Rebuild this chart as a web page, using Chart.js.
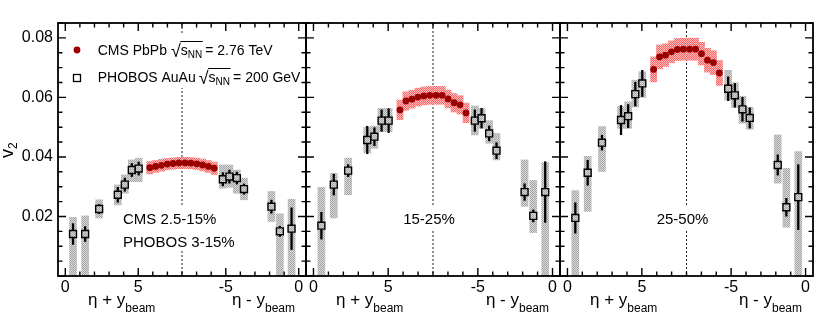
<!DOCTYPE html>
<html>
<head>
<meta charset="utf-8">
<script src="https://cdn.jsdelivr.net/npm/chart.js@4.4.0/dist/chart.umd.min.js"></script>
<style>
  body { margin: 0; background: #fff; }
  #wrap { position: relative; width: 830px; height: 336px; }
  #wrap canvas { position: absolute; left: 0; top: 0; }
</style>
</head>
<body>
<div id="wrap">
  <canvas id="c1" width="830" height="336"></canvas>
  <canvas id="c2" width="830" height="336"></canvas>
  <canvas id="c3" width="830" height="336"></canvas>
</div>
<script>
const FONT = '"Liberation Sans", Arial, Helvetica, sans-serif';
Chart.defaults.font.family = FONT;
Chart.defaults.color = "#000";

// x: eta + y_beam on the left half (positive), eta - y_beam on the right half (negative)
const cmsEta = [5.79, 6.19, 6.59, 6.99, 7.39, 7.79, -7.79, -7.39, -6.99, -6.59, -6.19, -5.79];
const phobosEta = [0.53, 1.36, 2.32, 3.6, 4.08, 4.56, 5.03, -5.2, -4.75, -4.24, -3.75, -1.87, -1.29, -0.49];

// CMS 2.5-15% / PHOBOS 3-15%
const cmsV2A = [0.0364, 0.0368, 0.0372, 0.0376, 0.0378, 0.0380, 0.0380, 0.0379, 0.0377, 0.0373, 0.0368, 0.0362];
const cmsSysA = [0.0021, 0.0020, 0.0020, 0.0019, 0.0019, 0.0019, 0.0019, 0.0019, 0.0019, 0.0020, 0.0020, 0.0021];
const phobosV2A = [0.0141, 0.0141, 0.0225, 0.0273, 0.0307, 0.0356, 0.0361, 0.0325, 0.0334, 0.0329, 0.0292, 0.0233, 0.0150, 0.0159];
const phobosStatA = [0.0035, 0.0025, 0.0015, 0.0025, 0.0022, 0.0022, 0.0022, 0.0022, 0.0022, 0.0020, 0.0017, 0.0022, 0.0017, 0.0070];
const phobosSysLoA = [0, 0, 0.0195, 0.0239, 0.0278, 0.0317, 0.0317, 0.0295, 0.0298, 0.0278, 0.0256, 0.0183, 0, 0];
const phobosSysHiA = [0.0197, 0.0202, 0.0256, 0.0306, 0.0340, 0.0390, 0.0396, 0.0373, 0.0373, 0.0356, 0.0329, 0.0284, 0.0209, 0.0258];

// 15-25%
const cmsV2B = [0.0558, 0.0588, 0.0594, 0.0601, 0.0605, 0.0607, 0.0607, 0.0607, 0.0595, 0.0582, 0.0575, 0.0548];
const cmsSysB = [0.0033, 0.0031, 0.0030, 0.0030, 0.0030, 0.0030, 0.0030, 0.0030, 0.0030, 0.0031, 0.0031, 0.0033];
const phobosV2B = [0.0169, 0.0307, 0.0354, 0.0457, 0.0468, 0.0522, 0.0522, 0.0522, 0.0530, 0.0479, 0.0421, 0.0282, 0.0202, 0.0282];
const phobosStatB = [0.0045, 0.0035, 0.0020, 0.0046, 0.0030, 0.0036, 0.0040, 0.0036, 0.0033, 0.0025, 0.0027, 0.0028, 0.0020, 0.0102];
const phobosSysLoB = [0, 0.0195, 0.0273, 0.0414, 0.0429, 0.0485, 0.0485, 0.0474, 0.0496, 0.0446, 0.0390, 0.0234, 0.0146, 0];
const phobosSysHiB = [0.0298, 0.0345, 0.0396, 0.0500, 0.0504, 0.0563, 0.0563, 0.0571, 0.0563, 0.0522, 0.0479, 0.0390, 0.0321, 0.0381];

// 25-50%
const cmsV2C = [0.0694, 0.0736, 0.0742, 0.0753, 0.0761, 0.0762, 0.0762, 0.0762, 0.0747, 0.0725, 0.0717, 0.0682];
const cmsSysC = [0.0042, 0.0040, 0.0038, 0.0037, 0.0037, 0.0037, 0.0037, 0.0037, 0.0038, 0.0040, 0.0040, 0.0042];
const phobosV2C = [0.0195, 0.0347, 0.0448, 0.0524, 0.0537, 0.0611, 0.0647, 0.0629, 0.0607, 0.0560, 0.0531, 0.0373, 0.0231, 0.0265];
const phobosStatC = [0.0051, 0.0042, 0.0025, 0.0049, 0.0039, 0.0040, 0.0044, 0.0040, 0.0040, 0.0040, 0.0034, 0.0034, 0.0030, 0.0109];
const phobosSysLoC = [0, 0.0217, 0.0351, 0.0496, 0.0496, 0.0568, 0.0600, 0.0591, 0.0566, 0.0513, 0.0493, 0.0312, 0.0164, 0];
const phobosSysHiC = [0.0287, 0.0402, 0.0502, 0.0569, 0.0585, 0.0658, 0.0686, 0.0691, 0.0649, 0.0604, 0.0567, 0.0474, 0.0362, 0.0418];

const xMajorPos = [0, 5, 11, 16];
const xMajorLabels = ["0", "5", "-5", "0"];
const yMajorLabels = ["0.02", "0.04", "0.06", "0.08"];

// left half runs 0..8, right half -8..0 -> one linear axis 0..16
const toAxis = e => (e < 0 ? e + 16 : e);

function hatch(c1, c2) {
  const p = document.createElement("canvas");
  p.width = p.height = 2;
  const g = p.getContext("2d");
  g.fillStyle = c2; g.fillRect(0, 0, 2, 2);
  g.fillStyle = c1; g.fillRect(0, 0, 1, 1); g.fillRect(1, 1, 1, 1);
  return g.createPattern(p, "repeat");
}
const grayHatch = hatch("#a6a6a6", "#d8d8d8");
const pinkHatch = hatch("#ff6464", "#ffbcbc");

// text with a subscript, returns end x
function subText(ctx, x, y, main, sub, size, subSize, drop) {
  ctx.font = `${size}px ${FONT}`;
  ctx.fillText(main, x, y);
  x += ctx.measureText(main).width;
  ctx.font = `${subSize}px ${FONT}`;
  ctx.fillText(sub, x, y + drop);
  return x + ctx.measureText(sub).width;
}

function sqrtSnn(ctx, x, y, tail) {
  ctx.font = `18px ${FONT}`;
  ctx.fillText("\u221A", x, y + 2);
  x += ctx.measureText("\u221A").width;
  const x0 = x;
  x = subText(ctx, x, y, "s", "NN", 14, 10, 3);
  ctx.lineWidth = 1;
  ctx.beginPath(); ctx.moveTo(x0 - 0.5, y - 13.5); ctx.lineTo(x + 0.5, y - 13.5); ctx.stroke();
  ctx.font = `14px ${FONT}`;
  ctx.fillText(tail, x + 3, y);
}

function legend(ctx) {
  ctx.fillStyle = "#fff";
  ctx.fillRect(62, 33, 241, 55);
  ctx.fillStyle = "#990000";
  ctx.beginPath(); ctx.arc(77, 50, 3.4, 0, Math.PI * 2); ctx.fill();
  ctx.fillStyle = "#fff"; ctx.strokeStyle = "#000"; ctx.lineWidth = 1.3;
  ctx.fillRect(73.5, 74.5, 7, 7); ctx.strokeRect(73.5, 74.5, 7, 7);
  ctx.fillStyle = "#000";
  ctx.textAlign = "left"; ctx.textBaseline = "alphabetic";
  ctx.font = `14px ${FONT}`;
  ctx.fillText("CMS PbPb", 97.7, 55);
  sqrtSnn(ctx, 97.7 + ctx.measureText("CMS PbPb").width + 4, 55, "= 2.76 TeV");
  ctx.font = `14px ${FONT}`;
  ctx.fillText("PHOBOS AuAu", 97.7, 82);
  sqrtSnn(ctx, 97.7 + ctx.measureText("PHOBOS AuAu").width + 3, 82, "= 200 GeV");
}

function makeDecor(p) {
  return {
    id: "decor" + p.id,
    beforeDatasetsDraw(chart) {
      const { ctx, chartArea: a, scales: { x } } = chart;
      const cx = x.getPixelForValue(8);
      ctx.save();
      ctx.strokeStyle = "#222"; ctx.lineWidth = 1; ctx.setLineDash([2, 2]);
      ctx.beginPath(); ctx.moveTo(cx, a.top); ctx.lineTo(cx, a.bottom); ctx.stroke();
      ctx.setLineDash([]);
      ctx.font = `15px ${FONT}`;
      ctx.textBaseline = "alphabetic";
      if (p.legend) {
        legend(ctx);
        ctx.fillStyle = "#fff"; ctx.fillRect(119, 205, 120, 45);
        ctx.fillStyle = "#000"; ctx.textAlign = "left"; ctx.font = `15px ${FONT}`;
        ctx.fillText(p.label[0], 123, 224);
        ctx.fillText(p.label[1], 123, 246.7);
      } else {
        const w = ctx.measureText(p.label[0]).width;
        ctx.fillStyle = "#fff"; ctx.fillRect(cx - 4 - w / 2 - 2, 205, w + 4, 25);
        ctx.fillStyle = "#000"; ctx.textAlign = "center";
        ctx.fillText(p.label[0], cx - 4, 223.5);
      }
      ctx.restore();
    },
    afterDraw(chart) {
      const { ctx, chartArea: a, scales: { x, y } } = chart;
      ctx.save();
      ctx.strokeStyle = "#000"; ctx.lineWidth = 1.4;
      ctx.beginPath();
      for (let u = 0; u <= 16; u++) {
        const px = x.getPixelForValue(u);
        const len = xMajorPos.includes(u) ? 8 : 4.5;
        ctx.moveTo(px, a.bottom); ctx.lineTo(px, a.bottom - len);
        ctx.moveTo(px, a.top); ctx.lineTo(px, a.top + len);
      }
      for (let k = 0; k * 0.005 <= y.max + 1e-9; k++) {
        const py = y.getPixelForValue(k * 0.005);
        const len = k % 4 === 0 ? 8 : 4.5;
        ctx.moveTo(a.left, py); ctx.lineTo(a.left + len, py);
        ctx.moveTo(a.right, py); ctx.lineTo(a.right - len, py);
      }
      ctx.stroke();
      ctx.lineWidth = 1.8;
      ctx.strokeRect(a.left, a.top, a.width, a.height);

      // axis titles
      ctx.fillStyle = "#000"; ctx.textAlign = "left"; ctx.textBaseline = "alphabetic";
      subText(ctx, a.left + 30, 305, "\u03B7 + y", "beam", 17, 12, 7);
      ctx.font = `17px ${FONT}`;
      let w = ctx.measureText("\u03B7 - y").width;
      ctx.font = `12px ${FONT}`;
      w += ctx.measureText("beam").width;
      subText(ctx, a.right - 11 - w, 305, "\u03B7 - y", "beam", 17, 12, 7);

      if (p.legend) {
        ctx.translate(13, 158);
        ctx.rotate(-Math.PI / 2);
        subText(ctx, 0, 0, "v", "2", 18, 12, 4);
      }
      ctx.restore();
    }
  };
}

const panels = [
  { id: "c1", pad: { left: 0, right: 830 - 306 }, showY: true, legend: true, label: ["CMS 2.5-15%", "PHOBOS 3-15%"],
    cms: cmsV2A, cmsSys: cmsSysA, ph: phobosV2A, stat: phobosStatA, lo: phobosSysLoA, hi: phobosSysHiA },
  { id: "c2", pad: { left: 306, right: 830 - 560 }, showY: false, legend: false, label: ["15-25%"],
    cms: cmsV2B, cmsSys: cmsSysB, ph: phobosV2B, stat: phobosStatB, lo: phobosSysLoB, hi: phobosSysHiB },
  { id: "c3", pad: { left: 560, right: 830 - 813 }, showY: false, legend: false, label: ["25-50%"],
    cms: cmsV2C, cmsSys: cmsSysC, ph: phobosV2C, stat: phobosStatC, lo: phobosSysLoC, hi: phobosSysHiC }
];

panels.forEach(p => {
  new Chart(document.getElementById(p.id), {
    type: "bar",
    data: {
      datasets: [
        { type: "bar", order: 5, grouped: false, barThickness: 7, backgroundColor: grayHatch,
          data: phobosEta.map((e, i) => ({ x: toAxis(e), y: [p.lo[i], p.hi[i]] })) },
        { type: "bar", order: 4, grouped: false, barThickness: 6.2, backgroundColor: pinkHatch,
          data: cmsEta.map((e, i) => ({ x: toAxis(e), y: [p.cms[i] - p.cmsSys[i], p.cms[i] + p.cmsSys[i]] })) },
        { type: "bar", order: 3, grouped: false, barThickness: 1.6, backgroundColor: "#000",
          data: phobosEta.map((e, i) => ({ x: toAxis(e), y: [p.ph[i] - p.stat[i], p.ph[i] + p.stat[i]] })) },
        { type: "scatter", order: 2, pointStyle: "circle", pointRadius: 3.4, borderWidth: 0,
          backgroundColor: "#990000", borderColor: "#990000",
          data: cmsEta.map((e, i) => ({ x: toAxis(e), y: p.cms[i] })) },
        { type: "scatter", order: 1, pointStyle: "rect", pointRadius: 4.9, borderWidth: 1.4,
          backgroundColor: grayHatch, borderColor: "#000",
          data: phobosEta.map((e, i) => ({ x: toAxis(e), y: p.ph[i] })) }
      ]
    },
    options: {
      responsive: false,
      animation: false,
      devicePixelRatio: 1,
      events: [],
      layout: { padding: { left: p.pad.left, right: p.pad.right, top: 23, bottom: 20 } },
      plugins: { legend: { display: false }, tooltip: { enabled: false } },
      scales: {
        x: {
          type: "linear", min: -0.5, max: 16.5, offset: false,
          afterBuildTicks: s => { s.ticks = Array.from({ length: 17 }, (_, u) => ({ value: u })); },
          afterFit: s => { s.height = 40; },
          grid: { display: false, drawTicks: false }, border: { display: false },
          ticks: {
            autoSkip: false, maxRotation: 0, padding: 2, font: { size: 16 },
            callback: v => { const i = xMajorPos.indexOf(v); return i >= 0 ? xMajorLabels[i] : ""; }
          }
        },
        y: {
          min: 0, max: 0.085, display: p.showY,
          afterFit: s => { s.width = p.showY ? 58 : 0; },
          grid: { display: false, drawTicks: false }, border: { display: false },
          ticks: {
            stepSize: 0.005, padding: 5, font: { size: 16 },
            callback: v => { const k = Math.round(v / 0.02); return Math.abs(v - k * 0.02) < 1e-6 && k > 0 ? yMajorLabels[k - 1] : ""; }
          }
        }
      }
    },
    plugins: [makeDecor(p)]
  });
});
</script>
</body>
</html>
